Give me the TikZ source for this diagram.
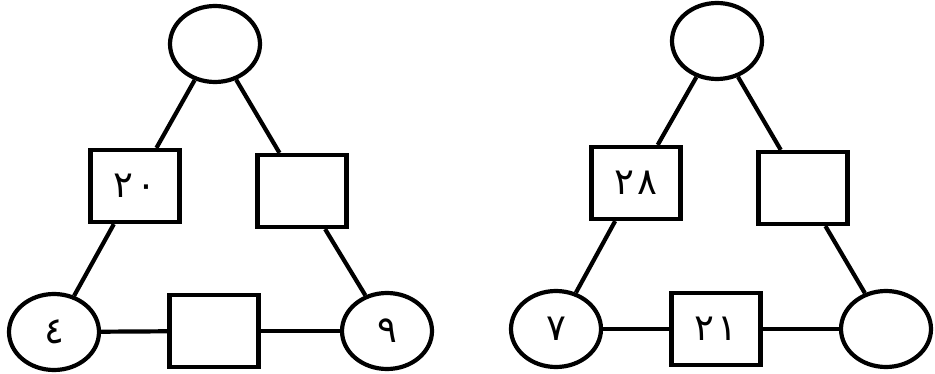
\documentclass[tikz,border=0pt]{standalone}
\usepackage{fontspec}
\newfontfamily\arabicfont[Script=Arabic]{DejaVu Sans}
\usetikzlibrary{shapes.geometric}
\begin{document}
\begin{tikzpicture}[x=1pt,y=1pt,line width=4.2pt,
  every node/.style={draw,font=\arabicfont\fontsize{37}{40}\selectfont,inner sep=0pt},
  oval/.style={ellipse,minimum width=90pt,minimum height=76pt},
  box/.style={rectangle,minimum width=89pt,minimum height=72pt}]
\useasboundingbox (0,0) rectangle (935,373);
% left triangle
\node[oval] (a1) at (215,329) {}; \node[box] (a2) at (135,187) {٢\kern4pt٠}; \node[box] (a3) at (302,182) {};
\node[oval] (a4) at (54,41) {٤}; \node[box] (a5) at (214,42) {}; \node[oval] (a6) at (387,42) {٩};
\draw (a1) -- (a2); \draw (a2) -- (a4);
\draw (a1) -- (a3); \draw (a3) -- (a6);
\draw (a4) -- (a5); \draw (a5) -- (a6);
% right triangle
\node[oval] (b1) at (717,332) {}; \node[box] (b2) at (636,190) {٢\kern4pt٨}; \node[box] (b3) at (803,185) {};
\node[oval] (b4) at (556,44) {٧}; \node[box] (b5) at (716,44) {٢\kern4pt١}; \node[oval] (b6) at (886,44) {};
\draw (b1) -- (b2); \draw (b2) -- (b4);
\draw (b1) -- (b3); \draw (b3) -- (b6);
\draw (b4) -- (b5); \draw (b5) -- (b6);
\end{tikzpicture}
\end{document}
